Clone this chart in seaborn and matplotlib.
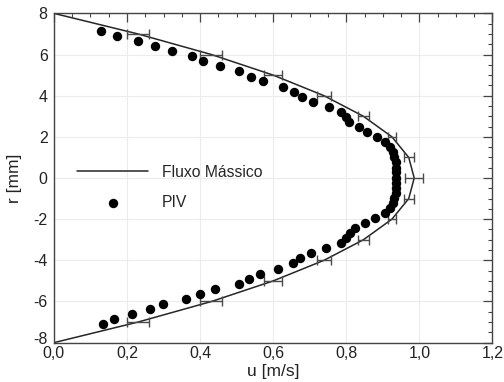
import numpy as np
import pandas as pd
import seaborn as sns
import matplotlib.pyplot as plt
from matplotlib.ticker import MultipleLocator
from matplotlib.transforms import ScaledTranslation

# Fluxo Massico profile: radius [mm] and velocity [m/s]
r_fluxo = [8, 7, 6, 5, 4, 3, 2, 1, 0, -1, -2, -3, -4, -5, -6, -7, -8]
u_fluxo = [0.0, 0.230, 0.431, 0.600, 0.739, 0.847, 0.925, 0.971, 0.986,
           0.971, 0.925, 0.847, 0.739, 0.600, 0.431, 0.230, 0.0]
# error bars only on the inner points (r = 7 ... -7)
err_fluxo = [0.031, 0.030, 0.025, 0.019, 0.014, 0.010, 0.0135, 0.024,
             0.0135, 0.010, 0.014, 0.019, 0.025, 0.030, 0.031]

# PIV measurements
r_piv = [7.14, 6.89, 6.65, 6.40, 6.16, 5.91, 5.67, 5.42, 5.18, 4.93,
         4.69, 4.44, 4.19, 3.95, 3.70, 3.46, 3.21, 2.97, 2.72, 2.48,
         2.23, 1.98, 1.74, 1.49, 1.25, 1.00, 0.76, 0.51, 0.27, 0.02,
         -0.23, -0.47, -0.72, -0.96, -1.21, -1.45, -1.70, -1.94, -2.19, -2.43,
         -2.68, -2.93, -3.17, -3.42, -3.66, -3.91, -4.15, -4.40, -4.64, -4.89,
         -5.13, -5.38, -5.62, -5.87, -6.11, -6.36, -6.60, -6.85, -7.10]
u_piv = [0.130, 0.172, 0.231, 0.276, 0.322, 0.379, 0.407, 0.454, 0.507, 0.539,
         0.573, 0.626, 0.658, 0.678, 0.709, 0.753, 0.786, 0.798, 0.808, 0.836,
         0.857, 0.883, 0.906, 0.920, 0.929, 0.932, 0.935, 0.936, 0.937, 0.937,
         0.937, 0.936, 0.935, 0.932, 0.929, 0.921, 0.905, 0.879, 0.852, 0.825,
         0.811, 0.798, 0.785, 0.745, 0.703, 0.673, 0.655, 0.614, 0.564, 0.534,
         0.506, 0.442, 0.400, 0.361, 0.299, 0.263, 0.213, 0.165, 0.133]

x_ticks = [0.0, 0.2, 0.4, 0.6, 0.8, 1.0, 1.2]
x_labels = ["0,0", "0,2", "0,4", "0,6", "0,8", "1,0", "1,2"]
y_ticks = [-8, -6, -4, -2, 0, 2, 4, 6, 8]
y_labels = ["-8", "-6", "-4", "-2", "0", "2", "4", "6", "8"]

fluxo = pd.DataFrame({"u": u_fluxo, "r": r_fluxo})
piv = pd.DataFrame({"u": u_piv, "r": r_piv})

sns.set_style("white")
plt.rcParams['font.family'] = ['Liberation Sans', 'DejaVu Sans']

fig = plt.figure(figsize=(5.04, 3.82), dpi=100)
ax = fig.add_axes([0.107, 0.103, 0.870, 0.862])

sns.lineplot(data=fluxo, x="u", y="r", sort=False, estimator=None,
             color="#262626", linewidth=1.1, label="Fluxo Mássico", ax=ax)
ax.errorbar(u_fluxo[1:-1], r_fluxo[1:-1], xerr=err_fluxo, fmt="none",
            ecolor="#4a4a4a", elinewidth=1.0, capsize=3.6, capthick=1.0)
sns.scatterplot(data=piv, x="u", y="r", color="black", s=46,
                edgecolor="black", linewidth=0, label="PIV", ax=ax, zorder=3)

ax.set_xlim(0, 1.2)
ax.set_ylim(-8, 8)
ax.set_xticks(x_ticks)
ax.set_xticklabels(x_labels)
ax.set_yticks(y_ticks)
ax.set_yticklabels(y_labels)
ax.xaxis.set_minor_locator(MultipleLocator(0.05))
ax.yaxis.set_minor_locator(MultipleLocator(0.5))

ax.grid(True, which="major", color="#ececec", linewidth=0.8)
ax.tick_params(which="both", direction="in", top=True, right=True,
               colors="#444444", labelcolor="#222222", labelsize=11.5)
ax.tick_params(which="major", length=6.5, width=0.9)
ax.tick_params(which="minor", length=3, width=0.8)
ax.tick_params(axis="x", pad=2.5)
ax.tick_params(axis="y", pad=4.5)
for s in ax.spines.values():
    s.set_color("#444444")
    s.set_linewidth(1.0)

# lift the "-8" label a little so it clears "0,0" at the corner
lbl = ax.get_yticklabels()[0]
lbl.set_transform(lbl.get_transform() + ScaledTranslation(0, 3 / 72, fig.dpi_scale_trans))

ax.set_xlabel("u [m/s]", fontsize=12.5, color="#222222", labelpad=2)
ax.set_ylabel("r [mm]", fontsize=12.5, color="#222222")
ax.yaxis.set_label_coords(-0.072, 0.5)

ax.legend(loc="center left", bbox_to_anchor=(0.052, 0.471), frameon=False,
          fontsize=11.3, handlelength=4.56, handletextpad=0.85, labelspacing=1.0,
          borderpad=0, borderaxespad=0, markerscale=1.0)

fig.savefig("out.png", dpi=100)
